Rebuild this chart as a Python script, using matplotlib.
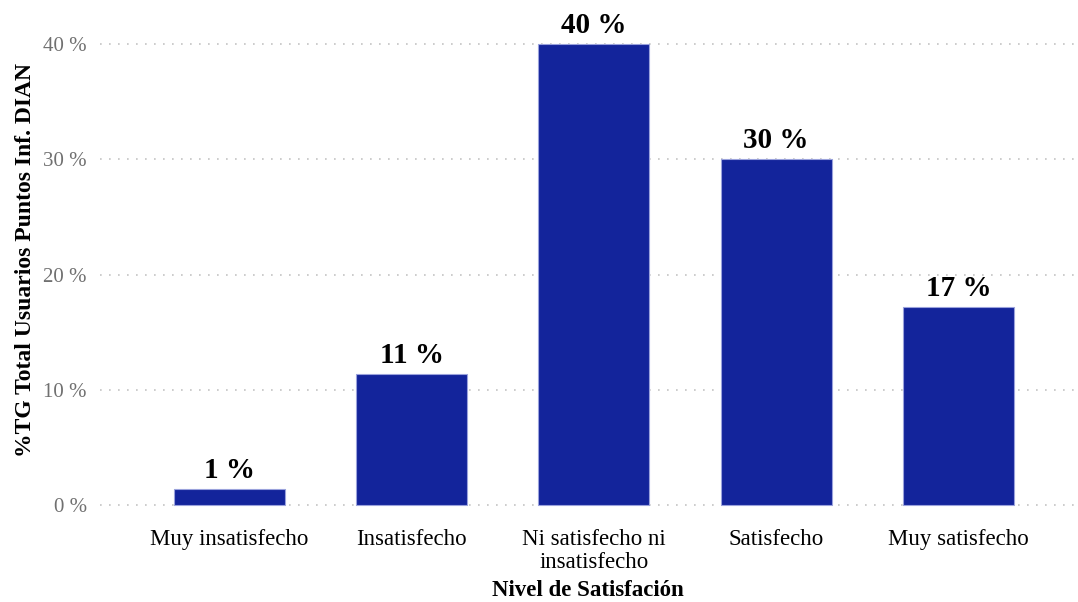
import matplotlib.pyplot as plt

categories = ["Muy insatisfecho", "Insatisfecho", "Ni satisfecho ni\ninsatisfecho",
              "Satisfecho", "Muy satisfecho"]
values = [1.4, 11.4, 40.0, 30.0, 17.2]
yticks = [0, 10, 20, 30, 40]

plt.rcParams['font.family'] = ['Liberation Serif', 'DejaVu Serif']

fig = plt.figure(figsize=(10.78, 6.02), dpi=100)
ax = fig.add_axes([100 / 1078, 85.5 / 602, 975 / 1078, 512.8 / 602])

x = list(range(len(categories)))
ax.bar(x, values, width=0.61, color='#13249b', edgecolor='#9aa2dc', linewidth=0.8, zorder=3)

for xi, v in zip(x, values):
    ax.text(xi, v + 0.95, "%d %%" % round(v), ha='center', va='baseline',
            fontsize=21, fontweight='bold', color='black')

ax.set_xlim(-0.71, 4.64)
ax.set_ylim(-1, 43.5)
ax.set_yticks(yticks)
ax.set_yticklabels(["%d %%" % t for t in yticks], fontsize=15, color='#707070')
ax.set_xticks(x)
ax.set_xticklabels(categories, fontsize=16.5, color='black', linespacing=1.15)
ax.tick_params(axis='both', length=0)
ax.tick_params(axis='y', pad=9.5)
ax.tick_params(axis='x', pad=9)

ax.yaxis.grid(True, linestyle=(0, (1, 4.4)), color='#c4c4c4', linewidth=1.2, zorder=0)
for s in ax.spines.values():
    s.set_visible(False)

ax.set_xlabel("Nivel de Satisfación", fontsize=16.5, fontweight='bold', labelpad=5)
ax.set_ylabel("%TG Total Usuarios Puntos Inf. DIAN", fontsize=17, fontweight='bold', labelpad=5)

fig.savefig("out.png", dpi=100)
